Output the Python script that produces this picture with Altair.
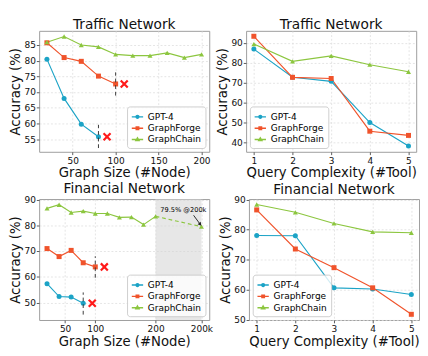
import altair as alt
import pandas as pd

FONT = "DejaVu Sans"
W, H = 180, 128

models = ["GPT-4", "GraphForge", "GraphChain"]
colors = ["#1BA3C6", "#F0532B", "#8CC63F"]
shapes = ["circle", "square", "triangle-up"]
legend_shapes = [
    "M-1,0L1,0M0.25,0A0.25,0.25 0 1 1 -0.25,0A0.25,0.25 0 1 1 0.25,0Z",
    "M-1,0L1,0M-0.22,-0.22L0.22,-0.22L0.22,0.22L-0.22,0.22Z",
    "M-1,0L1,0M0,-0.3L0.28,0.2L-0.28,0.2Z",
]

# ---- Traffic Network, graph size ----
tl_x = {
    "GPT-4": [20, 40, 60, 80],
    "GraphForge": [20, 40, 60, 80, 100],
    "GraphChain": [20, 40, 60, 80, 100, 120, 140, 160, 180, 200],
}
tl_y = {
    "GPT-4": [80.5, 68.0, 59.8, 55.8],
    "GraphForge": [85.7, 81.0, 79.8, 75.1, 72.6],
    "GraphChain": [85.9, 87.7, 85.0, 84.4, 82.0, 81.6, 81.6, 82.5, 81.0, 82.0],
}
tl_fail_x = [90, 110]
tl_fail_y = [55.8, 72.6]
tl_cut_x = [80, 100]
tl_cut_y1 = [52.2, 68.9]
tl_cut_y2 = [59.6, 76.3]

# ---- Traffic Network, query complexity ----
tools = [1, 2, 3, 4, 5]
tr_y = {
    "GPT-4": [86.8, 72.7, 70.7, 50.1, 38.4],
    "GraphForge": [93.2, 72.7, 72.1, 45.8, 43.7],
    "GraphChain": [89.3, 80.7, 83.4, 79.0, 75.5],
}

# ---- Financial Network, graph size ----
bl_x = {
    "GPT-4": [20, 40, 60, 80],
    "GraphForge": [20, 40, 60, 80, 100],
    "GraphChain": [20, 40, 60, 80, 100, 120, 140, 160, 180, 200],
}
bl_y = {
    "GPT-4": [57.4, 52.4, 52.2, 49.8],
    "GraphForge": [71.0, 67.9, 70.3, 65.5, 63.9],
    "GraphChain": [86.6, 88.0, 85.0, 85.5, 84.6, 84.6, 83.1, 83.2, 80.3, 83.5],
}
big_x = [200, 276]          # 276 = position of the "200k" tick
big_y = [83.5, 79.5]
bl_fail_x = [95, 115]
bl_fail_y = [49.8, 63.9]
bl_cut_x = [80, 100]
bl_cut_y1 = [45.4, 59.7]
bl_cut_y2 = [54.0, 68.0]
shade_x = [200, 276]
note_text = ["79.5% @200k"]
note_x = [246]
note_y = [85.8]
arrow_x = [263, 274]
arrow_y = [83.9, 80.4]

# ---- Financial Network, query complexity ----
br_y = {
    "GPT-4": [78.1, 78.0, 60.7, 60.3, 58.5],
    "GraphForge": [86.6, 73.6, 67.4, 60.7, 51.9],
    "GraphChain": [88.4, 85.8, 82.1, 79.3, 79.0],
}


def series_df(xs, ys):
    rows = []
    for m in models:
        for a, b in zip(xs[m], ys[m]):
            rows.append({"model": m, "x": a, "y": b})
    return pd.DataFrame(rows)


def panel(df, title, xtitle, xdom, xticks, ydom, yticks, orient,
          labelExpr=None, extra_back=(), extra_front=()):
    axx = dict(values=xticks, title=xtitle)
    if labelExpr:
        axx["labelExpr"] = labelExpr
    X = lambda f="x": alt.X(f"{f}:Q", scale=alt.Scale(domain=xdom, nice=False, zero=False),
                            axis=alt.Axis(**axx))
    Y = lambda f="y": alt.Y(f"{f}:Q", scale=alt.Scale(domain=ydom, nice=False, zero=False),
                            axis=alt.Axis(values=yticks, title="Accuracy (%)"))
    leg = alt.Legend(title=None, orient=orient, offset=4, padding=4,
                     strokeColor="#cccccc", fillColor="rgba(255,255,255,0.8)", cornerRadius=3,
                     labelFontSize=9.5, labelFont=FONT, symbolSize=144, rowPadding=0,
                     symbolStrokeWidth=1.5, symbolOpacity=1, labelOffset=4)
    base = alt.Chart(df)
    layers = [f(X, Y) for f in extra_back]
    for m, c in zip(models, colors):
        layers.append(base.transform_filter(alt.datum.model == m).mark_line(
            strokeWidth=1.2, color=c).encode(x=X(), y=Y()))
    for m, c, s in zip(models, colors, shapes):
        layers.append(base.transform_filter(alt.datum.model == m).mark_point(
            shape=s, filled=True, size=28, opacity=1, color=c).encode(x=X(), y=Y()))
    layers += [f(X, Y) for f in extra_front]
    legend_layer = base.mark_point(filled=False, opacity=0).encode(
        x=X(), y=Y(),
        color=alt.Color("model:N", scale=alt.Scale(domain=models, range=colors), legend=leg),
        shape=alt.Shape("model:N", scale=alt.Scale(domain=models, range=legend_shapes), legend=leg),
    )
    layers.append(legend_layer)
    return alt.layer(*layers).properties(width=W, height=H, title=title)


XSHAPE = "M-1,-1L1,1M-1,1L1,-1"


def fails(fx, fy):
    def f(X, Y):
        return alt.Chart(pd.DataFrame({"x": fx, "y": fy})).mark_point(
            shape=XSHAPE, color="#FF1A1A", strokeWidth=2.3, size=55, filled=False, opacity=1
        ).encode(x=X(), y=Y())
    return f


def cuts(cx, y1, y2):
    def f(X, Y):
        return alt.Chart(pd.DataFrame({"x": cx, "y": y1, "y2": y2})).mark_rule(
            color="#333333", strokeDash=[4, 3], strokeWidth=1
        ).encode(x=X(), y=Y(), y2="y2:Q")
    return f


def shade(X, Y):
    return alt.Chart(pd.DataFrame({"x": [shade_x[0]], "x2": [shade_x[1]]})).mark_rect(
        color="#d4d4d4", opacity=0.55
    ).encode(x=X(), x2="x2:Q", y=alt.value(0), y2=alt.value(H))


def big_seg(X, Y):
    return alt.Chart(pd.DataFrame({"x": big_x, "y": big_y})).mark_line(
        color=colors[2], strokeDash=[4, 3], strokeWidth=1.2
    ).encode(x=X(), y=Y())


def big_pt(X, Y):
    return alt.Chart(pd.DataFrame({"x": big_x[1:], "y": big_y[1:]})).mark_point(
        shape="triangle-up", filled=True, size=28, color=colors[2], opacity=1
    ).encode(x=X(), y=Y())


def note(X, Y):
    return alt.Chart(pd.DataFrame({"x": note_x, "y": note_y, "t": note_text})).mark_text(
        fontSize=7, font=FONT, color="black"
    ).encode(x=X(), y=Y(), text="t:N")


def arrow(X, Y):
    d = pd.DataFrame({"x": [arrow_x[0]], "y": [arrow_y[0]], "x2": [arrow_x[1]], "y2": [arrow_y[1]]})
    r = alt.Chart(d).mark_rule(color="#222222", strokeWidth=1).encode(
        x=X(), y=Y(), x2="x2:Q", y2="y2:Q")
    h = alt.Chart(pd.DataFrame({"x": [arrow_x[1]], "y": [arrow_y[1]]})).mark_point(
        shape="triangle-up", angle=140, filled=True, size=18, color="#222222", opacity=1
    ).encode(x=X(), y=Y())
    return alt.layer(r, h)


p1 = panel(series_df(tl_x, tl_y), "Traffic Network", "Graph Size (#Node)",
           [11, 209], [50, 100, 150, 200], [51, 89.5], [55, 60, 65, 70, 75, 80, 85],
           "bottom-right",
           extra_front=[cuts(tl_cut_x, tl_cut_y1, tl_cut_y2), fails(tl_fail_x, tl_fail_y)])

p2 = panel(series_df({m: tools for m in models}, tr_y), "Traffic Network",
           "Query Complexity (#Tool)", [0.8, 5.2], tools, [35.5, 95.9],
           [40, 50, 60, 70, 80, 90], "bottom-left")

p3 = panel(series_df(bl_x, bl_y), "Financial Network", "Graph Size (#Node)",
           [7, 289], [50, 100, 200, 276], [43.3, 90.2], [50, 60, 70, 80, 90],
           "bottom-right", labelExpr="datum.value == 276 ? '200k' : datum.label",
           extra_back=[shade],
           extra_front=[big_seg, big_pt, cuts(bl_cut_x, bl_cut_y1, bl_cut_y2),
                        fails(bl_fail_x, bl_fail_y), note, arrow])

p4 = panel(series_df({m: tools for m in models}, br_y), "Financial Network",
           "Query Complexity (#Tool)", [0.8, 5.2], tools, [50, 90.2],
           [50, 60, 70, 80, 90], "bottom-left")

res = dict(color="independent", shape="independent")
row1 = alt.hconcat(p1, p2, spacing=4).resolve_scale(**res).resolve_legend(**res)
row2 = alt.hconcat(p3, p4, spacing=4).resolve_scale(**res).resolve_legend(**res)
chart = alt.vconcat(row1, row2, spacing=1).resolve_scale(**res).resolve_legend(**res)

chart = chart.properties(padding=0).configure(font=FONT).configure_view(
    stroke="#999999", strokeWidth=1
).configure_axis(
    domain=False, labelFont=FONT, titleFont=FONT, labelFontSize=9.5, titleFontSize=14,
    titleFontWeight="normal", labelColor="#111111", titleColor="#111111",
    tickColor="#555555", tickSize=3, labelPadding=1, titlePadding=2,
    gridColor="#dddddd", gridDash=[2, 2], gridWidth=0.8
).configure_title(
    font=FONT, fontSize=14.5, fontWeight="normal", color="#111111", offset=-2, anchor="middle"
)

chart.save("out.html", embed_options={"renderer": "svg", "actions": False})
